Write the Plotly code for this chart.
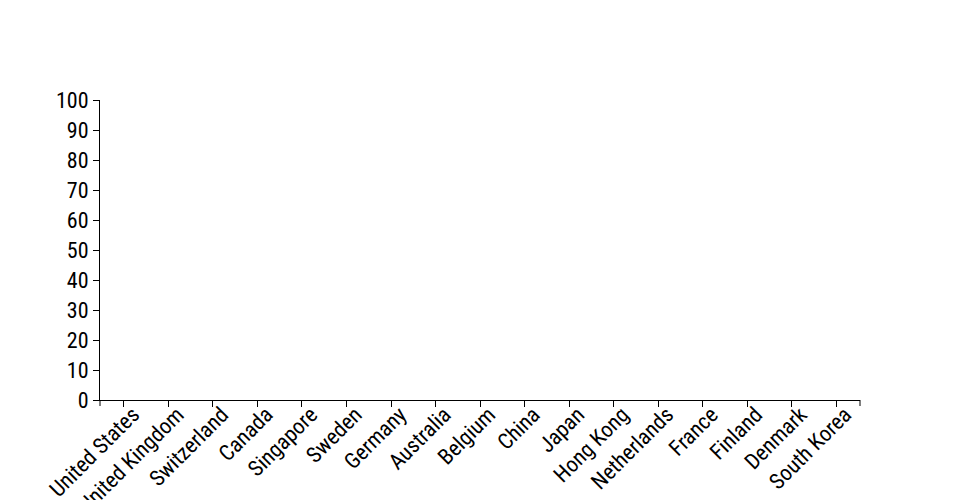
import plotly.graph_objects as go

categories = ["United States", "United Kingdom", "Switzerland", "Canada", "Singapore",
              "Sweden", "Germany", "Australia", "Belgium", "China", "Japan", "Hong Kong",
              "Netherlands", "France", "Finland", "Denmark", "South Korea"]
values = [0] * len(categories)  # no visible bars in the reference
y_ticks = list(range(0, 101, 10))

FONT = "Roboto Condensed, sans-serif"
FS = 22

fig = go.Figure()
fig.add_trace(go.Bar(x=categories, y=values, marker=dict(color="steelblue", line=dict(width=0)),
                     hoverinfo="skip"))

n = len(categories)
pad = 0.539
fig.update_layout(
    width=960, height=500,
    margin=dict(l=92, r=108, t=92, b=108),
    paper_bgcolor="white", plot_bgcolor="white",
    showlegend=False,
    font=dict(family=FONT, size=FS, color="black"),
    xaxis=dict(
        type="category", range=[-pad, n - 1 + pad], automargin=False,
        showgrid=False, zeroline=False,
        showline=True, linecolor="black", linewidth=1,
        ticks="outside", ticklen=6, tickcolor="black",
        tickangle=-45, ticklabelshift=9, ticklabelstandoff=-14,
        tickfont=dict(family=FONT, size=FS, color="black"),
    ),
    yaxis=dict(
        range=[0, 100], tickvals=y_ticks, automargin=False,
        showgrid=False, zeroline=False,
        showline=True, linecolor="black", linewidth=1,
        ticks="outside", ticklen=6, tickcolor="black",
        tickfont=dict(family=FONT, size=FS, color="black"),
    ),
    shapes=[
        dict(type="line", xref="paper", yref="paper", x0=0, x1=0, y0=0, y1=-0.02,
             line=dict(color="black", width=1)),
        dict(type="line", xref="paper", yref="paper", x0=1, x1=1, y0=0, y1=-0.02,
             line=dict(color="black", width=1)),
    ],
)

fig.write_html("out.html")
